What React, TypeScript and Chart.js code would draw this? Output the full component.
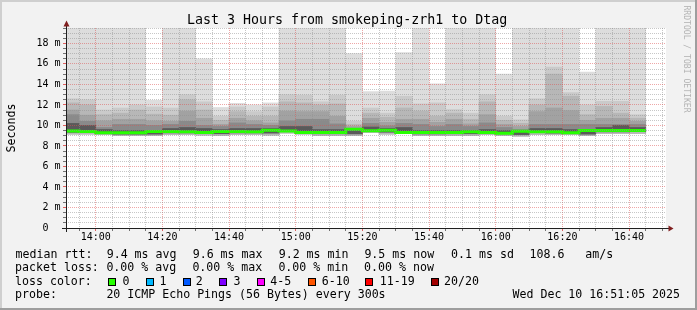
import React, { useEffect, useRef } from "react";
import { Chart, registerables } from "chart.js";

Chart.register(...registerables);

// ---- data (5-minute slots, values in ms) ----
const slotStarts = [
  "13:50", "13:55",
  "14:00", "14:05", "14:10", "14:15", "14:20", "14:25", "14:30", "14:35", "14:40", "14:45", "14:50", "14:55",
  "15:00", "15:05", "15:10", "15:15", "15:20", "15:25", "15:30", "15:35", "15:40", "15:45", "15:50", "15:55",
  "16:00", "16:05", "16:10", "16:15", "16:20", "16:25", "16:30", "16:35", "16:40",
];
// smoke band upper edges (outermost = max ping)
const pingTop1 = [24, 24, 24, 24, 24, 12.45, 24, 24, 16.5, 11.75, 12.15, 12.0, 12.2, 24, 24, 24, 24, 17.0, 13.3, 13.35, 17.1, 24, 14.05, 24, 24, 24, 15.0, 24, 24, 24, 24, 15.2, 24, 24, 24];
const pingTop2 = [12.6, 12.5, 11.5, 11.7, 12.0, 11.8, 11.7, 13.0, 12.3, 10.9, 11.8, 11.35, 11.8, 13.0, 12.95, 12.3, 12.95, 10.4, 11.7, 11.2, 12.85, 12.1, 12.2, 11.55, 11.2, 13.0, 10.9, 10.55, 12.6, 15.7, 13.2, 12.0, 12.35, 12.35, 11.05];
const pingTop3 = [12.2, 12.0, 11.05, 11.2, 11.5, 11.1, 11.0, 12.5, 11.5, 10.5, 11.35, 10.9, 10.9, 12.3, 12.2, 12.0, 12.1, 10.1, 11.2, 10.8, 11.7, 11.4, 10.9, 11.2, 10.6, 12.3, 10.5, 10.2, 12.0, 15.0, 12.85, 11.05, 11.85, 11.2, 10.7];
const pingTop4 = [11.5, 11.0, 10.45, 10.6, 10.6, 10.45, 10.4, 11.4, 10.7, 10.1, 10.7, 10.45, 10.25, 11.4, 11.35, 11.35, 10.9, 9.9, 10.7, 10.3, 10.6, 10.6, 10.3, 10.6, 10.15, 11.05, 10.1, 9.9, 11.35, 11.7, 11.45, 10.5, 10.7, 10.7, 10.4];
const pingTop5 = [11.05, 10.4, 9.8, 10.1, 10.1, 10.0, 10.1, 10.4, 10.0, 9.9, 10.25, 10.1, 10.0, 10.45, 10.6, 10.6, 10.15, 9.7, 10.2, 9.95, 10.2, 10.1, 9.9, 10.1, 9.9, 10.25, 9.8, 9.6, 10.1, 10.1, 10.1, 10.1, 10.1, 10.1, 10.1];
const pingTop6 = [10.2, 10.0, 9.6, 9.5, 9.5, 9.5, 9.7, 9.8, 9.7, 9.6, 9.7, 9.7, 9.7, 9.9, 9.9, 9.6, 9.6, 9.5, 9.85, 9.7, 9.8, 9.5, 9.5, 9.5, 9.5, 9.6, 9.5, 9.4, 9.7, 9.7, 9.6, 9.4, 9.8, 10.0, 9.8];
const medianRtt = [9.46, 9.46, 9.4, 9.28, 9.28, 9.28, 9.4, 9.4, 9.38, 9.31, 9.4, 9.4, 9.38, 9.54, 9.46, 9.31, 9.31, 9.3, 9.62, 9.47, 9.54, 9.3, 9.3, 9.31, 9.31, 9.38, 9.31, 9.23, 9.43, 9.38, 9.38, 9.28, 9.5, 9.5, 9.51];
const pingLow = [9.15, 9.15, 9.1, 9.0, 9.0, 9.0, 9.1, 9.1, 9.05, 9.0, 9.1, 9.1, 9.05, 9.25, 9.15, 9.0, 9.0, 9.0, 9.3, 9.15, 9.25, 9.0, 9.0, 9.0, 9.0, 9.1, 9.0, 8.95, 9.1, 9.1, 9.1, 9.0, 9.2, 9.2, 9.2];
const coreLow = [9.34, 9.34, 9.28, 9.16, 9.16, 9.16, 9.28, 9.28, 9.26, 9.19, 9.28, 9.28, 9.26, 9.42, 9.34, 9.19, 9.19, 9.18, 9.5, 9.35, 9.42, 9.18, 9.18, 9.19, 9.19, 9.26, 9.19, 9.11, 9.31, 9.26, 9.26, 9.16, 9.38, 9.38, 9.39];

const rangeStart = "13:51:05";
const rangeEnd = "16:51:05";
const slotMinutes = 5;
const minorTickMinutes = 5;
const xLabelTimes = ["14:00", "14:20", "14:40", "15:00", "15:20", "15:40", "16:00", "16:20", "16:40"];
const yMax = 19.5;
const yMinorStep = 0.5;
const yLabelValues = [0, 2, 4, 6, 8, 10, 12, 14, 16, 18];
const yLabelTexts = ["0  ", "2 m", "4 m", "6 m", "8 m", "10 m", "12 m", "14 m", "16 m", "18 m"];

const FONT = "'DejaVu Sans Mono', monospace";
const GRID = "rgba(143,143,143,0.5)";
const MGRID = "rgba(222,79,79,0.5)";

const toMin = (t: string) => {
  const p = t.split(":").map(Number);
  return p[0] * 60 + p[1] + (p[2] || 0) / 60;
};

const Txt = ({ x, baseline, size, color = "#000", children }: any) => {
  const L = Math.round(size * 1.25);
  return (
    <div
      style={{
        position: "absolute",
        left: x,
        top: baseline - L / 2 - 0.346 * size,
        fontSize: size,
        lineHeight: L + "px",
        fontFamily: FONT,
        whiteSpace: "pre",
        color,
      }}
    >
      {children}
    </div>
  );
};

const Box = ({ x, color }: any) => (
  <div
    style={{
      position: "absolute",
      left: x,
      top: 278,
      width: 8,
      height: 8,
      boxSizing: "border-box",
      border: "1px solid #000",
      background: color,
    }}
  />
);

export default function App() {
  const ref = useRef<HTMLCanvasElement>(null);

  useEffect(() => {
    const canvas = ref.current!;
    const xMin = toMin(rangeStart);
    const xMax = toMin(rangeEnd);
    const majorX = new Map(xLabelTimes.map((t) => [toMin(t), t]));
    const labelY = new Map(yLabelValues.map((v, i) => [v, yLabelTexts[i]]));
    const xTicks: number[] = [];
    for (let t = Math.ceil(xMin / minorTickMinutes) * minorTickMinutes; t < xMax; t += minorTickMinutes) xTicks.push(t);
    const yTicks: number[] = [];
    for (let v = 0; v <= yMax + 1e-9; v += yMinorStep) yTicks.push(Math.round(v * 100) / 100);

    const starts = slotStarts.map(toMin);
    const bands = [
      { hi: pingTop1, lo: pingLow, color: "#dddddd" },
      { hi: pingTop2, lo: pingLow, color: "#cacaca" },
      { hi: pingTop3, lo: pingLow, color: "#b7b7b7" },
      { hi: pingTop4, lo: coreLow, color: "#a2a2a2" },
      { hi: pingTop5, lo: coreLow, color: "#8a8a8a" },
      { hi: pingTop6, lo: coreLow, color: "#5a5a5a" },
    ];

    const datasets: any[] = bands.map((b, bi) => ({
      type: "bar",
      data: starts.map((s, i) => ({ x: s + slotMinutes / 2, y: [b.lo[i], b.hi[i]] })),
      backgroundColor: b.color,
      borderWidth: 0,
      grouped: false,
      barPercentage: 1,
      categoryPercentage: 1,
      order: 20 - bi,
    }));
    const last = starts.length - 1;
    datasets.push({
      type: "line",
      data: [
        ...starts.map((s, i) => ({ x: s, y: medianRtt[i] })),
        { x: starts[last] + slotMinutes, y: medianRtt[last] },
      ],
      borderColor: "#26ff00",
      borderWidth: 3,
      pointRadius: 0,
      stepped: "after",
      fill: false,
      order: 0,
    });

    const framePlugin = {
      id: "frame",
      beforeDraw(chart: any) {
        const { ctx, chartArea: a, width: w, height: h } = chart;
        ctx.save();
        ctx.fillStyle = "#f2f2f2";
        ctx.fillRect(0, 0, w, h);
        ctx.fillStyle = "#cfcfcf";
        ctx.fillRect(0, 0, w, 2);
        ctx.fillRect(0, 0, 2, h);
        ctx.fillStyle = "#9e9e9e";
        ctx.fillRect(0, h - 2, w, 2);
        ctx.fillRect(w - 2, 0, 2, h);
        ctx.fillStyle = "#ffffff";
        ctx.fillRect(a.left, a.top, a.right - a.left, a.bottom - a.top);
        ctx.restore();
      },
      afterDraw(chart: any) {
        const { ctx, chartArea: a } = chart;
        const X0 = a.left + 0.5;
        const Y0 = a.bottom + 0.5;
        ctx.save();
        ctx.strokeStyle = "#1f1f1f";
        ctx.lineWidth = 1;
        ctx.beginPath();
        ctx.moveTo(a.left - 4, Y0);
        ctx.lineTo(a.right + 4, Y0);
        ctx.moveTo(X0, a.bottom + 4);
        ctx.lineTo(X0, a.top - 4);
        ctx.stroke();
        ctx.fillStyle = "#801f1f";
        ctx.beginPath();
        ctx.moveTo(a.right + 2.5, Y0 - 3);
        ctx.lineTo(a.right + 2.5, Y0 + 3);
        ctx.lineTo(a.right + 7.5, Y0);
        ctx.closePath();
        ctx.fill();
        ctx.beginPath();
        ctx.moveTo(X0 - 3, a.top - 1.5);
        ctx.lineTo(X0 + 3, a.top - 1.5);
        ctx.lineTo(X0, a.top - 7.5);
        ctx.closePath();
        ctx.fill();
        ctx.restore();
      },
    };

    const chart = new Chart(canvas, {
      type: "bar",
      data: { datasets },
      plugins: [framePlugin],
      options: {
        animation: false,
        responsive: false,
        devicePixelRatio: 1,
        events: [],
        layout: { padding: { left: 0, right: 31, top: 28, bottom: 0 } },
        plugins: { legend: { display: false }, title: { display: false }, tooltip: { enabled: false } },
        scales: {
          x: {
            type: "linear",
            min: xMin,
            max: xMax,
            offset: false,
            afterBuildTicks: (s: any) => {
              s.ticks = xTicks.map((v) => ({ value: v }));
            },
            afterFit: (s: any) => {
              s.height = 82;
            },
            grid: {
              z: 1,
              offset: false,
              lineWidth: 1,
              color: (c: any) => (c.tick && majorX.has(c.tick.value) ? MGRID : GRID),
              drawTicks: true,
              tickLength: 3,
              tickColor: (c: any) => (c.tick && majorX.has(c.tick.value) ? "rgba(222,79,79,0.9)" : "rgba(100,100,100,0.9)"),
            },
            border: { display: false, dash: [1, 1] },
            ticks: {
              autoSkip: false,
              maxRotation: 0,
              minRotation: 0,
              padding: 0,
              color: "#000",
              font: { family: FONT, size: 10 },
              callback: (v: any) => majorX.get(v) || "",
            },
          },
          y: {
            type: "linear",
            min: 0,
            max: yMax,
            afterBuildTicks: (s: any) => {
              s.ticks = yTicks.map((v) => ({ value: v }));
            },
            afterFit: (s: any) => {
              s.width = 66;
            },
            grid: {
              z: 1,
              lineWidth: 1,
              color: (c: any) => (c.tick && labelY.has(c.tick.value) ? MGRID : GRID),
              drawTicks: true,
              tickLength: 3,
              tickColor: (c: any) => (c.tick && labelY.has(c.tick.value) ? "rgba(222,79,79,0.9)" : "rgba(100,100,100,0.9)"),
            },
            border: { display: false, dash: [1, 1] },
            ticks: {
              autoSkip: false,
              padding: 2.5,
              color: "#000",
              font: { family: FONT, size: 10 },
              callback: (v: any) => labelY.get(v) || "",
            },
          },
        },
      } as any,
    });
    return () => chart.destroy();
  }, []);

  const rowY = [258.3, 271.8, 285.5, 299];
  const valX = [106.7, 192.7, 278.7, 364.4, 451.1];
  return (
    <div style={{ position: "fixed", left: 0, top: 0, width: 697, height: 310, overflow: "hidden" }}>
      <canvas ref={ref} width={697} height={310} style={{ position: "absolute", left: 0, top: 0, width: 697, height: 310 }} />
      <Txt x={187} baseline={24} size={13.3}>Last 3 Hours from smokeping-zrh1 to Dtag</Txt>
      <div
        style={{
          position: "absolute",
          left: 11 - 60,
          top: 128.3 - 7,
          width: 120,
          height: 14,
          lineHeight: "14px",
          fontSize: 11.6,
          fontFamily: FONT,
          textAlign: "center",
          transform: "rotate(-90deg)",
          color: "#000",
        }}
      >
        Seconds
      </div>
      <div
        style={{
          position: "absolute",
          left: 687.1 - 70,
          top: 58.5 - 5,
          width: 140,
          height: 10,
          lineHeight: "10px",
          fontSize: 8.1,
          fontFamily: FONT,
          textAlign: "center",
          whiteSpace: "pre",
          transform: "rotate(90deg)",
          color: "#b4b4b4",
        }}
      >
        RRDTOOL / TOBI OETIKER
      </div>

      <Txt x={15.6} baseline={rowY[0]} size={11.6}>median rtt:</Txt>
      {["9.4 ms avg", "9.6 ms max", "9.2 ms min", "9.5 ms now", "0.1 ms sd"].map((t, i) => (
        <Txt key={"m" + i} x={valX[i]} baseline={rowY[0]} size={11.6}>{t}</Txt>
      ))}
      <Txt x={529.5} baseline={rowY[0]} size={11.6}>{"108.6   am/s"}</Txt>

      <Txt x={15.1} baseline={rowY[1]} size={11.6}>packet loss:</Txt>
      {["0.00 % avg", "0.00 % max", "0.00 % min", "0.00 % now"].map((t, i) => (
        <Txt key={"p" + i} x={valX[i] - 0.3} baseline={rowY[1]} size={11.6}>{t}</Txt>
      ))}

      <Txt x={15} baseline={rowY[2]} size={11.6}>loss color:</Txt>
      {[
        [108, 122.4, "#26ff00", "0"],
        [146, 159.5, "#00b8ff", "1"],
        [183, 195.8, "#0059ff", "2"],
        [219, 233.4, "#7e00ff", "3"],
        [257, 270.2, "#ff00ff", "4-5"],
        [308, 321.8, "#ff5500", "6-10"],
        [365, 379.8, "#ff0000", "11-19"],
        [431, 444.1, "#a10000", "20/20"],
      ].map((e: any, i) => (
        <React.Fragment key={"l" + i}>
          <Box x={e[0]} color={e[2]} />
          <Txt x={e[1]} baseline={rowY[2]} size={11.6}>{e[3]}</Txt>
        </React.Fragment>
      ))}

      <Txt x={15} baseline={rowY[3]} size={11.6}>probe:</Txt>
      <Txt x={106.4} baseline={rowY[3]} size={11.6}>20 ICMP Echo Pings (56 Bytes) every 300s</Txt>
      <Txt x={512.5} baseline={rowY[3]} size={11.6}>Wed Dec 10 16:51:05 2025</Txt>
    </div>
  );
}
